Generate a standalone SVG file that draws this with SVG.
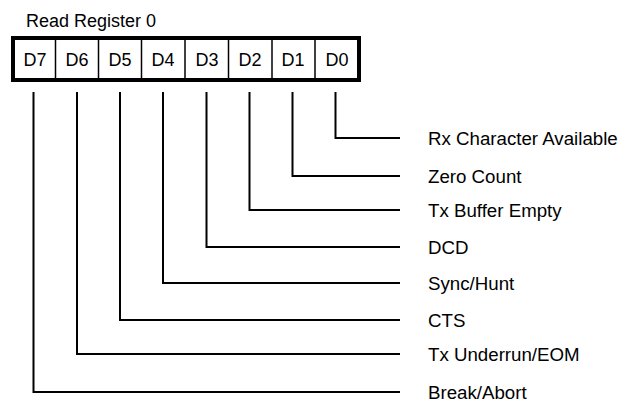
<svg xmlns="http://www.w3.org/2000/svg" width="636" height="402" viewBox="0 0 636 402">
<style>
text{font-family:"Liberation Sans",Arial,sans-serif;fill:#000}
.ttl{font-size:18px}
.lbl{font-size:18.7px}
.bit{font-size:18px;text-anchor:middle}
.wire{fill:none;stroke:#000;stroke-width:2}
.div{stroke:#000;stroke-width:1.5}
</style>
<rect width="636" height="402" fill="#fff"/>
<g id="title"><text x="26" y="27" class="ttl">Read Register 0</text></g>
<g id="register">
<rect x="13" y="38" width="346" height="42" fill="#fff" stroke="#000" stroke-width="4"/>
<line class="div" x1="55.5" y1="40" x2="55.5" y2="78"/>
<line class="div" x1="98.5" y1="40" x2="98.5" y2="78"/>
<line class="div" x1="141.5" y1="40" x2="141.5" y2="78"/>
<line class="div" x1="185" y1="40" x2="185" y2="78"/>
<line class="div" x1="228.5" y1="40" x2="228.5" y2="78"/>
<line class="div" x1="272" y1="40" x2="272" y2="78"/>
<line class="div" x1="315" y1="40" x2="315" y2="78"/>
<text class="bit" x="35" y="66">D7</text>
<text class="bit" x="77" y="66">D6</text>
<text class="bit" x="120" y="66">D5</text>
<text class="bit" x="163" y="66">D4</text>
<text class="bit" x="207" y="66">D3</text>
<text class="bit" x="250" y="66">D2</text>
<text class="bit" x="293" y="66">D1</text>
<text class="bit" x="337" y="66">D0</text>
</g>
<g id="connectors">
<polyline class="wire" points="335.5,92 335.5,138 400,138"/>
<polyline class="wire" points="292.5,92 292.5,176 400,176"/>
<polyline class="wire" points="249.5,92 249.5,210 400,210"/>
<polyline class="wire" points="206.5,92 206.5,247 400,247"/>
<polyline class="wire" points="163,92 163,283 400,283"/>
<polyline class="wire" points="120,92 120,320 400,320"/>
<polyline class="wire" points="77,92 77,354 400,354"/>
<polyline class="wire" points="33.5,92 33.5,392 400,392"/>
</g>
<g id="label-d0"><text class="lbl" x="428" y="145">Rx Character Available</text></g>
<g id="label-d1"><text class="lbl" x="428" y="183">Zero Count</text></g>
<g id="label-d2"><text class="lbl" x="428" y="217">Tx Buffer Empty</text></g>
<g id="label-d3"><text class="lbl" x="428" y="254">DCD</text></g>
<g id="label-d4"><text class="lbl" x="428" y="290">Sync/Hunt</text></g>
<g id="label-d5"><text class="lbl" x="428" y="327">CTS</text></g>
<g id="label-d6"><text class="lbl" x="428" y="361">Tx Underrun/EOM</text></g>
<g id="label-d7"><text class="lbl" x="428" y="399">Break/Abort</text></g>
</svg>
